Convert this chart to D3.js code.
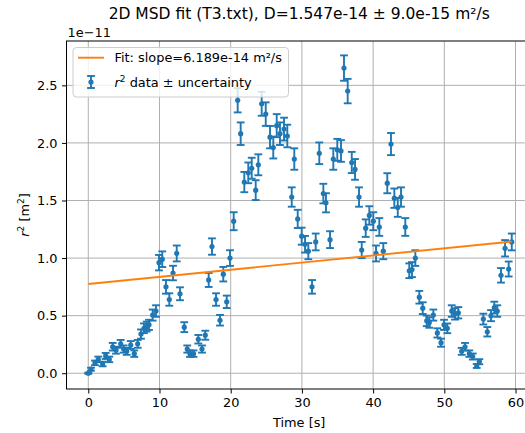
<!DOCTYPE html>
<html>
<head>
<meta charset="utf-8">
<script src="https://cdn.jsdelivr.net/npm/d3@7"></script>
<style>
  body { margin: 0; background: #fff; }
  svg { display: block; font-family: "DejaVu Sans", sans-serif; }
</style>
</head>
<body>
<div id="viz"></div>
<script>
//Datos (r2 en unidades de 1e-11 m²)
const times = [0.00, 0.38, 0.94, 1.40, 2.02, 2.44, 2.95, 3.43, 3.89, 4.55,
  4.97, 5.39, 5.96, 6.46, 6.94, 7.40, 7.82, 8.20, 8.53, 9.04,
  9.51, 9.93, 10.39, 10.91, 11.38, 11.90, 12.42, 12.88, 13.48, 13.90,
  14.28, 14.78, 15.45, 15.97, 16.43, 16.91, 17.37, 17.94, 18.50, 18.96,
  19.44, 19.90, 20.42, 20.98, 21.40, 21.91, 22.47, 22.95, 23.51, 23.88,
  24.35, 24.92, 25.52, 25.98, 26.46, 26.92, 27.49, 27.95, 28.57, 28.93,
  29.41, 29.97, 30.44, 30.90, 31.42, 31.94, 32.44, 33.01, 33.38, 33.95,
  34.41, 34.97, 35.49, 35.91, 36.43, 37.00, 37.46, 38.02, 38.40, 38.96,
  39.47, 40.03, 40.41, 40.87, 41.43, 41.99, 42.51, 42.98, 43.46, 43.92,
  44.52, 45.08, 45.46, 45.93, 46.49, 46.97, 47.53, 47.89, 48.46, 49.02,
  49.54, 49.96, 50.42, 51.04, 51.50, 51.97, 52.44, 52.91, 53.51, 53.99,
  54.55, 54.92, 55.48, 56.04, 56.56, 57.02, 57.44, 57.96, 58.53, 59.04, 59.47];

const r2 = [0.00, 0.035, 0.09, 0.12, 0.08, 0.15, 0.12, 0.23, 0.20, 0.255,
  0.21, 0.19, 0.245, 0.17, 0.255, 0.34, 0.39, 0.405, 0.42, 0.505,
  0.54, 0.96, 0.99, 0.75, 0.64, 0.87, 1.04, 0.69, 0.40, 0.21,
  0.17, 0.17, 0.295, 0.21, 0.33, 0.81, 1.10, 0.64, 0.46, 0.86,
  0.62, 1.00, 1.32, 2.37, 2.08, 1.66, 1.74, 1.78, 1.59, 1.81,
  2.34, 2.25, 2.05, 1.96, 2.15, 2.08, 2.12, 2.06, 1.53, 1.86,
  1.34, 1.19, 1.12, 1.06, 0.75, 1.14, 1.91, 1.56, 1.48, 1.16,
  1.86, 1.94, 1.93, 2.65, 2.45, 1.83, 1.77, 1.53, 1.07, 1.26,
  1.37, 1.32, 1.04, 1.27, 1.06, 1.65, 1.99, 1.52, 1.44, 1.53,
  1.27, 0.89, 0.90, 1.00, 0.66, 0.565, 0.455, 0.44, 0.505, 0.35,
  0.265, 0.42, 0.39, 0.54, 0.515, 0.525, 0.19, 0.23, 0.17, 0.145,
  0.063, 0.10, 0.47, 0.36, 0.50, 0.57, 0.54, 0.85, 1.085, 0.905, 1.14];

const r2Err = [0.005, 0.013, 0.02, 0.024, 0.02, 0.026, 0.024, 0.033, 0.03, 0.034,
  0.031, 0.03, 0.034, 0.028, 0.034, 0.04, 0.042, 0.043, 0.044, 0.048,
  0.05, 0.067, 0.068, 0.059, 0.054, 0.063, 0.069, 0.056, 0.043, 0.031,
  0.028, 0.028, 0.037, 0.031, 0.039, 0.061, 0.071, 0.054, 0.046, 0.063,
  0.054, 0.068, 0.078, 0.105, 0.098, 0.088, 0.09, 0.091, 0.086, 0.091,
  0.104, 0.102, 0.097, 0.095, 0.1, 0.098, 0.099, 0.098, 0.084, 0.093,
  0.079, 0.074, 0.072, 0.07, 0.059, 0.073, 0.094, 0.085, 0.083, 0.073,
  0.093, 0.095, 0.094, 0.11, 0.106, 0.092, 0.09, 0.084, 0.07, 0.076,
  0.08, 0.078, 0.069, 0.077, 0.07, 0.087, 0.096, 0.084, 0.082, 0.084,
  0.077, 0.064, 0.065, 0.068, 0.055, 0.051, 0.046, 0.045, 0.048, 0.04,
  0.035, 0.044, 0.042, 0.05, 0.049, 0.049, 0.03, 0.033, 0.028, 0.026,
  0.017, 0.022, 0.047, 0.041, 0.048, 0.051, 0.05, 0.063, 0.071, 0.065, 0.073];

const fitSlope = 6.189e-14;      // m²/s
const fitIntercept = 7.75e-12;   // m²
const yUnit = 1e-11;

const xTicks = [0, 10, 20, 30, 40, 50, 60];
const yTicks = [0, 0.5, 1.0, 1.5, 2.0, 2.5];

const titleText = '2D MSD fit (T3.txt), D=1.547e-14 \u00b1 9.0e-15 m\u00b2/s';
const fitLabel = 'Fit: slope=6.189e-14 m\u00b2/s';

//Colores
const COLOR_DATA = '#1f77b4', COLOR_FIT = '#ff7f0e', COLOR_GRID = '#b0b0b0';

//Gráfico
let width = 525, height = 433;
let plot = {left: 66.5, top: 41, bottom: 389, right: 531.9};

let svg = d3.select('#viz')
  .append('svg')
    .attr('width', width)
    .attr('height', height);

let x = d3.scaleLinear()
  .domain([-3.06, 62.3])
  .range([plot.left, plot.right]);

let y = d3.scaleLinear()
  .domain([-0.137, 2.885])
  .range([plot.bottom, plot.top]);

//Rejilla
svg.append('g')
  .selectAll('line')
  .data(xTicks)
  .enter()
  .append('line')
    .attr('x1', d => x(d)).attr('x2', d => x(d))
    .attr('y1', plot.top).attr('y2', plot.bottom)
    .attr('stroke', COLOR_GRID).attr('stroke-width', 1);

svg.append('g')
  .selectAll('line')
  .data(yTicks)
  .enter()
  .append('line')
    .attr('x1', plot.left).attr('x2', plot.right)
    .attr('y1', d => y(d)).attr('y2', d => y(d))
    .attr('stroke', COLOR_GRID).attr('stroke-width', 1);

//Ejes
let xAxis = function(g) {
  g.call(d3.axisBottom(x).tickValues(xTicks).tickSize(4.5).tickPadding(4.5).tickFormat(d3.format('d')));
  g.select('.domain').remove();
  g.selectAll('line').attr('stroke', '#000').attr('stroke-width', 1);
  g.selectAll('text').attr('font-size', '12.9px').attr('fill', '#000').attr('font-family', '"DejaVu Sans", sans-serif');
};
let yAxis = function(g) {
  g.call(d3.axisLeft(y).tickValues(yTicks).tickSize(4.5).tickPadding(4.5).tickFormat(d3.format('.1f')));
  g.select('.domain').remove();
  g.selectAll('line').attr('stroke', '#000').attr('stroke-width', 1);
  g.selectAll('text').attr('font-size', '12.9px').attr('fill', '#000').attr('font-family', '"DejaVu Sans", sans-serif');
};

svg.append('g').attr('transform', 'translate(0,' + plot.bottom + ')').call(xAxis);
svg.append('g').attr('transform', 'translate(' + plot.left + ',0)').call(yAxis);

//Datos con barras de error
let pts = times.map((t, i) => ({t: t, v: r2[i], e: r2Err[i]}));

let eb = svg.append('g').attr('stroke', COLOR_DATA).attr('stroke-width', 1.9).attr('fill', 'none');
eb.selectAll('.bar').data(pts).enter().append('line')
  .attr('x1', d => x(d.t)).attr('x2', d => x(d.t))
  .attr('y1', d => y(d.v - d.e)).attr('y2', d => y(d.v + d.e));
eb.selectAll('.capLo').data(pts).enter().append('line')
  .attr('x1', d => x(d.t) - 3.9).attr('x2', d => x(d.t) + 3.9)
  .attr('y1', d => y(d.v - d.e)).attr('y2', d => y(d.v - d.e));
eb.selectAll('.capHi').data(pts).enter().append('line')
  .attr('x1', d => x(d.t) - 3.9).attr('x2', d => x(d.t) + 3.9)
  .attr('y1', d => y(d.v + d.e)).attr('y2', d => y(d.v + d.e));

svg.append('g').selectAll('circle').data(pts).enter().append('circle')
  .attr('cx', d => x(d.t)).attr('cy', d => y(d.v)).attr('r', 2.6)
  .attr('fill', COLOR_DATA);

//Ajuste lineal
let tExt = d3.extent(times);
let fitLine = d3.line()
  .x(d => x(d))
  .y(d => y((fitIntercept + fitSlope * d) / yUnit));
svg.append('path')
  .datum(tExt)
  .attr('d', fitLine)
  .attr('stroke', COLOR_FIT).attr('stroke-width', 1.9).attr('fill', 'none');

//Marco
svg.append('rect')
  .attr('x', plot.left).attr('y', plot.top)
  .attr('width', plot.right - plot.left).attr('height', plot.bottom - plot.top)
  .attr('fill', 'none').attr('stroke', '#000').attr('stroke-width', 1);

//Textos
svg.append('text')
  .attr('x', (plot.left + plot.right) / 2).attr('y', 18.5)
  .attr('text-anchor', 'middle').attr('font-size', '15.5px')
  .text(titleText);

svg.append('text')
  .attr('x', plot.left + 1).attr('y', 36.5)
  .attr('font-size', '12.9px')
  .text('1e\u221211');

svg.append('text')
  .attr('x', (plot.left + plot.right) / 2).attr('y', 427)
  .attr('text-anchor', 'middle').attr('font-size', '12.9px')
  .text('Time [s]');

let yl = svg.append('text')
  .attr('transform', 'translate(29,' + ((plot.top + plot.bottom) / 2) + ') rotate(-90)')
  .attr('text-anchor', 'middle').attr('font-size', '12.9px');
yl.append('tspan').attr('font-style', 'italic').text('r');
yl.append('tspan').attr('font-size', '9px').attr('dy', '-5').text('2');
yl.append('tspan').attr('dy', '5').text(' [m');
yl.append('tspan').attr('font-size', '9px').attr('dy', '-5').text('2');
yl.append('tspan').attr('dy', '5').text(']');

//Leyenda
let lg = svg.append('g');
lg.append('rect')
  .attr('x', 73).attr('y', 47.5).attr('width', 215.5).attr('height', 49.5)
  .attr('rx', 3.5).attr('ry', 3.5)
  .attr('fill', '#fff').attr('fill-opacity', 0.8)
  .attr('stroke', '#cccccc').attr('stroke-width', 1);

lg.append('line')
  .attr('x1', 78).attr('x2', 104).attr('y1', 57.7).attr('y2', 57.7)
  .attr('stroke', COLOR_FIT).attr('stroke-width', 1.9);
lg.append('text').attr('x', 114.5).attr('y', 62.3).attr('font-size', '12.9px').text(fitLabel);

let lgE = lg.append('g').attr('stroke', COLOR_DATA).attr('stroke-width', 1.9);
lgE.append('line').attr('x1', 91).attr('x2', 91).attr('y1', 76).attr('y2', 88);
lgE.append('line').attr('x1', 87.1).attr('x2', 94.9).attr('y1', 76).attr('y2', 76);
lgE.append('line').attr('x1', 87.1).attr('x2', 94.9).attr('y1', 88).attr('y2', 88);
lg.append('circle').attr('cx', 91).attr('cy', 82).attr('r', 2.6).attr('fill', COLOR_DATA);

let lt = lg.append('text').attr('x', 114.5).attr('y', 86.5).attr('font-size', '12.9px');
lt.append('tspan').attr('font-style', 'italic').text('r');
lt.append('tspan').attr('font-size', '9px').attr('dy', '-5').text('2');
lt.append('tspan').attr('dy', '5').text(' data \u00b1 uncertainty');
</script>
</body>
</html>
